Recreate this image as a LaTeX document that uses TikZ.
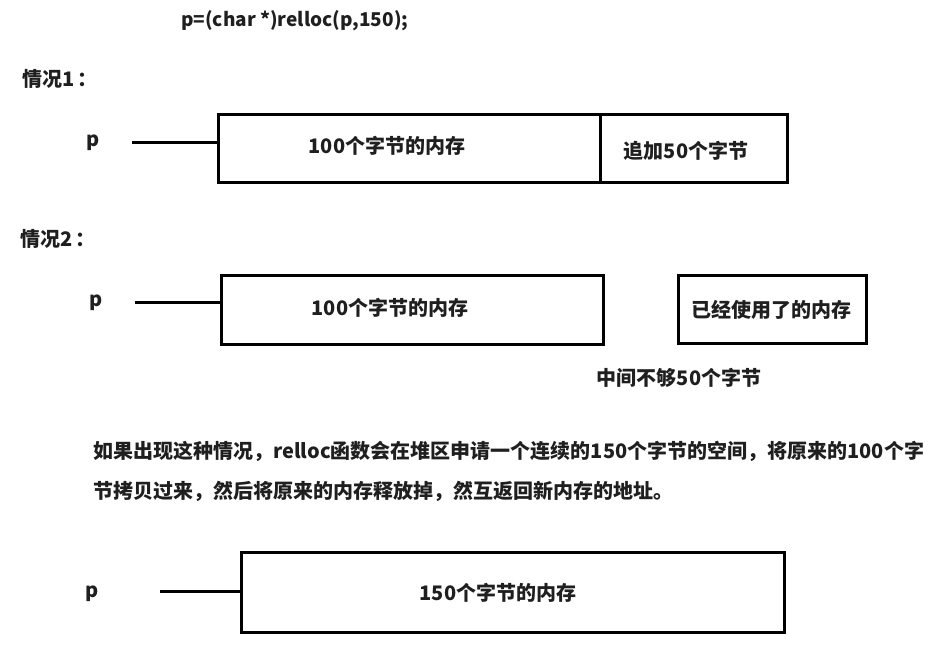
\documentclass[tikz,border=0pt]{standalone}
\usepackage{fontspec}
\setmainfont{Noto Sans CJK SC}
\begin{document}
\begin{tikzpicture}[x=1pt,y=-1pt,
  txt/.style={inner sep=0pt,font=\fontsize{20}{24}\selectfont\bfseries,text=black!88},
  mem/.style={draw=black,line width=3.2pt,inner sep=0pt,anchor=north west},
  ptr/.style={line width=3pt}]
\useasboundingbox[fill=white] (0,0) rectangle (928,645);
% title
\node[txt,anchor=west,font=\fontsize{19}{22}\selectfont\bfseries] (title) at (181,21) {p=(char *)relloc(p,150);};
% case 1
\node[txt,anchor=west] (c1) at (22,79) {情况1\,：};
\node[txt,anchor=west] (p1) at (86,143) {p};
\node[mem,minimum width=382pt,minimum height=68pt] (a1) at (217,113) {};
\node[txt] (a1t) at (387,146) {100个字节的内存};
\node[mem,minimum width=187pt,minimum height=68pt] (b1) at (599,113) {};
\node[txt] (b1t) at (686,151) {追加50个字节};
\coordinate (l1) at (132,142);
\draw[ptr] (l1) -- (l1 -| a1.west);
% case 2
\node[txt,anchor=west] (c2) at (20,239) {情况2\,：};
\node[txt,anchor=west] (p2) at (89,303) {p};
\node[mem,minimum width=382pt,minimum height=69pt] (a2) at (220,274) {};
\node[txt] (a2t) at (390,308) {100个字节的内存};
\node[mem,minimum width=188pt,minimum height=68pt] (b2) at (677,274) {};
\node[txt] (b2t) at (771,310) {已经使用了的内存};
\coordinate (l2) at (135,302);
\draw[ptr] (l2) -- (l2 -| a2.west);
\node[txt] (gap) at (679,378) {中间不够50个字节};
% explanation
\node[txt,anchor=west] (e1) at (93,451) {如果出现这种情况，relloc函数会在堆区申请一个连续的150个字节的空间，将原来的100个字};
\node[txt,anchor=west] (e2) at (93,491) {节拷贝过来，然后将原来的内存释放掉，然互返回新内存的地址。};
% case 3
\node[txt,anchor=west] (p3) at (85,594) {p};
\node[mem,minimum width=543pt,minimum height=80pt] (a3) at (240,551) {};
\node[txt] (a3t) at (498,593) {150个字节的内存};
\coordinate (l3) at (160,591);
\draw[ptr] (l3) -- (l3 -| a3.west);
\end{tikzpicture}
\end{document}
